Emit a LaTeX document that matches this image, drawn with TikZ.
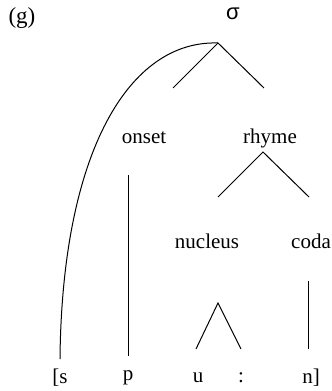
\documentclass[tikz,border=0pt]{standalone}
\usepackage{fontspec}
\setmainfont{Liberation Serif}
\newfontfamily\greekfont{Liberation Sans}
\begin{document}
\begin{tikzpicture}[x=0.5pt,y=-0.5pt,
  lbl/.style={inner sep=0pt,font=\fontsize{10.5}{12}\selectfont},
  br/.style={line width=0.5pt}]
\useasboundingbox (0,0) rectangle (332,391);
\node[lbl,font=\fontsize{11.5}{13}\selectfont] (g) at (22,18) {(g)};
\node[lbl,font=\greekfont\fontsize{11}{13}\selectfont] (sigma) at (233,14) {σ};
\node[lbl] (onset) at (144,138) {onset};
\node[lbl] (rhyme) at (270,138) {rhyme};
\node[lbl] (nucleus) at (207,241) {nucleus};
\node[lbl] (coda) at (311,241) {coda};
\node[lbl] (s) at (60,378) {[s};
\node[lbl] (p) at (128,378) {p};
\node[lbl] (u) at (198,378) {u};
\node[lbl] (len) at (241,378) {:};
\node[lbl] (n) at (311,378) {n]};
% branch points
\coordinate (sa) at (218,43);
\coordinate (sl) at (173,88);
\coordinate (sr) at (264,88);
\coordinate (ra) at (263,152);
\coordinate (rl) at (218,197);
\coordinate (rr) at (309,197);
\coordinate (na) at (218,303);
\coordinate (nl) at (196,349);
\coordinate (nr) at (241,349);
\coordinate (ot) at (128,175);
\coordinate (ob) at (128,356);
\coordinate (ct) at (308,281);
\coordinate (cb) at (308,349);
\coordinate (se) at (60,359);
\draw[br] (sl) -- (sa) -- (sr);
\draw[br] (rl) -- (ra) -- (rr);
\draw[br] (nl) -- (na) -- (nr);
\draw[br] (ot) -- (ob);
\draw[br] (ct) -- (cb);
\draw[br] (sa) .. controls (130,40) and (62,150) .. (se);
\end{tikzpicture}
\end{document}
